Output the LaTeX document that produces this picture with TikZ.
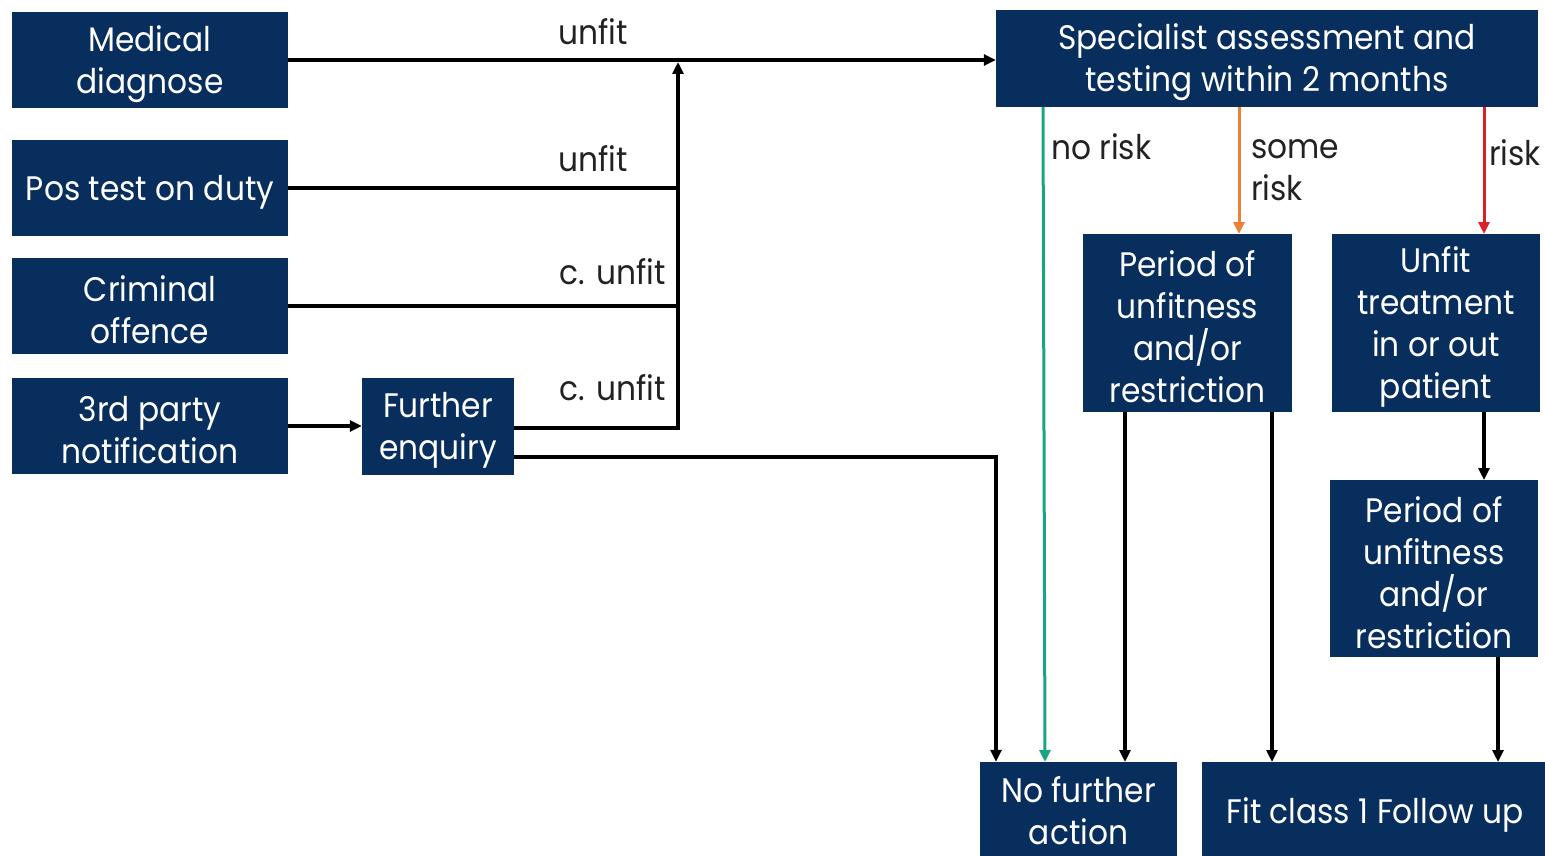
\documentclass[tikz,border=0pt]{standalone}
\usepackage{fontspec}
\usetikzlibrary{arrows.meta}
\newfontfamily\gothfont[FakeStretch=0.92]{Poppins}
\definecolor{navy}{RGB}{8,46,94}
\definecolor{teal1}{RGB}{26,163,133}
\definecolor{orng}{RGB}{237,128,52}
\definecolor{redd}{RGB}{214,35,40}
\definecolor{lbl}{RGB}{34,34,34}
\tikzset{
  box/.style={rectangle, fill=navy, inner sep=0pt},
  boxtext/.style={text=white, inner sep=0pt, align=center, yshift=-4pt,
    font=\gothfont\fontsize{34}{42}\selectfont},
  lab/.style={text=lbl, inner sep=0pt, font=\gothfont\fontsize{34}{42}\selectfont, align=left},
  con/.style={line width=3.5pt, draw=black},
  arr/.style={con, -{Triangle[length=12pt,width=11pt]}},
  carr/.style={line width=3pt, -{Triangle[length=12pt,width=11pt]}},
}
\begin{document}
\begin{tikzpicture}[x=1pt,y=-1pt]
\useasboundingbox (0,0) rectangle (1545,856);
% boxes
\node[box, minimum width=276pt, minimum height=96pt] (med) at (150,60) {};
\node[box, minimum width=276pt, minimum height=96pt] (pos) at (150,188) {};
\node[box, minimum width=276pt, minimum height=96pt] (crim) at (150,306) {};
\node[box, minimum width=276pt, minimum height=96pt] (third) at (150,426) {};
\node[box, minimum width=152pt, minimum height=97pt] (fe) at (438,426.5) {};
\node[box, minimum width=542pt, minimum height=97pt] (spec) at (1267,58.5) {};
\node[box, minimum width=209pt, minimum height=178pt] (per1) at (1187.5,323) {};
\node[box, minimum width=208pt, minimum height=178pt] (unf) at (1436,323) {};
\node[box, minimum width=208pt, minimum height=177pt] (per2) at (1434,568.5) {};
\node[box, minimum width=197pt, minimum height=98pt] (nfa) at (1078.5,811) {};
\node[box, minimum width=346pt, minimum height=98pt] (fit) at (1375,811) {};
% box texts
\node[boxtext] (tmed) at (med.center) {Medical\\diagnose};
\node[boxtext] (tpos) at (pos.center) {Pos test on duty};
\node[boxtext] (tcrim) at (crim.center) {Criminal\\offence};
\node[boxtext] (tthird) at (third.center) {3rd party\\notification};
\node[boxtext] (tfe) at (fe.center) {Further\\enquiry};
\node[boxtext] (tspec) at (spec.center) {Specialist assessment and\\testing within 2 months};
\node[boxtext] (tper1) at (per1.center) {Period of\\unfitness\\and/or\\restriction};
\node[boxtext] (tunf) at (unf.center) {Unfit\\treatment\\in or out\\patient};
\node[boxtext] (tper2) at (per2.center) {Period of\\unfitness\\and/or\\restriction};
\node[boxtext, yshift=4pt] (tnfa) at (nfa.center) {No further\\action};
\node[boxtext] (tfit) at (fit.center) {Fit class 1 Follow up};
% junction coordinates
\coordinate (jtop) at (678,62);
\coordinate (jbot) at (678,428);
\coordinate (fe2) at (514,457);
\coordinate (corner) at (996,457);
% connectors left
\draw[arr] (med.east) -- (med.east -| spec.west);
\draw[con] (pos.east) -- (pos.east -| jbot);
\draw[con] (crim.east) -- (crim.east -| jbot);
\draw[arr] (fe.east |- jbot) -- (jbot) -- (jtop);
\draw[arr] (third.east) -- (third.east -| fe.west);
\draw[arr] (fe2) -- (corner) -- (corner |- nfa.north);
% risk arrows
\draw[carr, draw=teal1, color=teal1] (1043,107) -- (1045,762);
\draw[carr, draw=orng, color=orng] (1239,107) -- (1239,234);
\draw[carr, draw=redd, color=redd] (1484,107) -- (1484,234);
% lower arrows
\draw[arr] (1125,412) -- (1125,762);
\draw[arr] (1272,412) -- (1272,762);
\draw[arr] (1484,412) -- (1484,480);
\draw[arr] (1498,657) -- (1498,762);
% labels
\node[lab] (l1) at (593,32) {unfit};
\node[lab] (l2) at (593,159) {unfit};
\node[lab] (l3) at (613,272) {c. unfit};
\node[lab] (l4) at (613,388) {c. unfit};
\node[lab, anchor=west] (l5) at (1051,147) {no risk};
\node[lab, anchor=west] (l6) at (1251,170.5) {some\\risk};
\node[lab, anchor=west] (l7) at (1489,153) {risk};
\end{tikzpicture}
\end{document}
